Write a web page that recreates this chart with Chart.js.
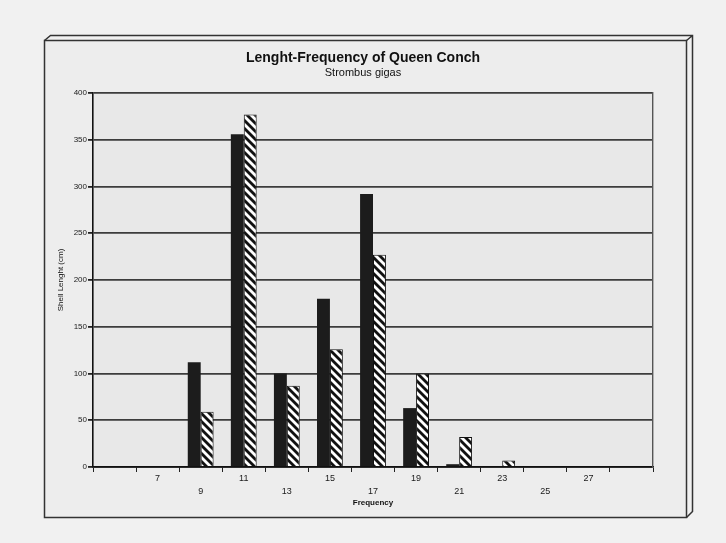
<!DOCTYPE html>
<html>
<head>
<meta charset="utf-8">
<script src="https://cdn.jsdelivr.net/npm/chart.js@4"></script>
<style>
    html, body { margin: 0; padding: 0; background: #f1f1f1; }
    #wrap { position: relative; width: 726px; height: 543px; }
</style>
</head>
<body>
<div id="wrap"><canvas id="chart-1" width="726" height="543"></canvas></div>
<script>
// shell length classes (first and last slots are empty in the original)
var size_labels = ["", "7", "9", "11", "13", "15", "17", "19", "21", "23", "25", "27", ""];
var solid_values = [0, 0, 112, 356, 100, 180, 292, 63, 3, 0, 0, 0, 0];
var hatched_values = [0, 1, 59, 377, 87, 126, 227, 100, 32, 7, 0, 1, 0];
var y_ticks = [0, 50, 100, 150, 200, 250, 300, 350, 400];

// diagonal stripe pattern for the second series
function makeStripes() {
    var c = document.createElement("canvas");
    c.width = 8;
    c.height = 8;
    var p = c.getContext("2d");
    p.fillStyle = "#111";
    p.fillRect(0, 0, 8, 8);
    p.strokeStyle = "#fff";
    p.lineWidth = 2.8;
    for (let k = -8; k <= 8; k += 8) {
        p.beginPath();
        p.moveTo(-1, k - 1);
        p.lineTo(9, k + 9);
        p.stroke();
    }
    return p.createPattern(c, "repeat");
}

// outer 3d frame and grey plot area
var framePlugin = {
    id: "frame",
    beforeDraw: function(chart) {
        var ctx = chart.ctx;
        var a = chart.chartArea;
        ctx.save();
        ctx.fillStyle = "#ededed";
        ctx.fillRect(44, 40, 642, 477);
        ctx.strokeStyle = "#333";
        ctx.lineWidth = 1.5;
        ctx.strokeRect(44.5, 40.5, 642, 477);
        ctx.beginPath();
        ctx.moveTo(44.5, 40.5);
        ctx.lineTo(50.5, 35.5);
        ctx.lineTo(692.5, 35.5);
        ctx.lineTo(692.5, 511.5);
        ctx.lineTo(686.5, 517.5);
        ctx.moveTo(686.5, 40.5);
        ctx.lineTo(692.5, 35.5);
        ctx.stroke();
        ctx.fillStyle = "#e8e8e8";
        ctx.fillRect(a.left, a.top, a.right - a.left, a.bottom - a.top);
        ctx.restore();
    }
};

var ctx = document.getElementById("chart-1").getContext("2d");
var myChart = new Chart(ctx, {
    type: "bar",
    data: {
        labels: size_labels,
        datasets: [{
            label: "solid",
            data: solid_values,
            backgroundColor: "#1c1c1c",
            borderColor: "#111",
            borderWidth: 0,
        }, {
            label: "hatched",
            data: hatched_values,
            backgroundColor: makeStripes(),
            borderColor: "#111",
            borderWidth: 1,
        }, ],
    },
    plugins: [framePlugin],
    options: {
        responsive: false,
        animation: false,
        layout: {
            padding: { top: 35, left: 45, right: 45, bottom: 0 },
        },
        datasets: {
            bar: { categoryPercentage: 0.6, barPercentage: 1.0 },
        },
        plugins: {
            legend: { display: false },
            tooltip: { enabled: false },
            title: {
                display: true,
                text: "Lenght-Frequency of Queen Conch",
                color: "#111",
                font: { family: "Liberation Sans", size: 14, weight: "bold", lineHeight: 1.2 },
                padding: { top: 14.6, bottom: 0 },
            },
            subtitle: {
                display: true,
                text: "Strombus gigas",
                color: "#111",
                font: { family: "Liberation Sans", size: 11, lineHeight: 1.2 },
                padding: { top: 0, bottom: 13.4 },
            },
        },
        scales: {
            x: {
                afterFit: function(s) { s.height = 76; },
                grid: {
                    offset: true,
                    drawOnChartArea: false,
                    drawTicks: true,
                    tickLength: 5,
                    tickColor: "#222",
                },
                border: { display: true, color: "#111", width: 1.6 },
                ticks: {
                    padding: 0,
                    maxRotation: 0,
                    autoSkip: false,
                    color: "#1a1a1a",
                    font: { family: "Liberation Sans", size: 9, lineHeight: "13px" },
                    callback: function(v, i) {
                        var t = size_labels[i];
                        return i % 2 === 0 ? ["", t] : t;
                    },
                },
                title: {
                    display: true,
                    text: "Frequency",
                    color: "#111",
                    font: { family: "Liberation Sans", size: 8, weight: "bold", lineHeight: 1.2 },
                    padding: { top: 0, bottom: 35.7 },
                },
            },
            y: {
                min: 0,
                max: 400,
                afterFit: function(s) { s.width = 48; },
                afterBuildTicks: function(s) {
                    s.ticks = y_ticks.map(function(v) { return { value: v }; });
                },
                grid: {
                    color: function(c) { return c.tick && c.tick.value === 0 ? "#111" : "#3c3c3c"; },
                    lineWidth: 1.8,
                    tickLength: 5,
                    tickColor: "#222",
                },
                border: { display: true, color: "#111", width: 1.6 },
                ticks: {
                    padding: 1,
                    color: "#1a1a1a",
                    font: { family: "Liberation Sans", size: 8 },
                },
                title: {
                    display: true,
                    text: "Shell Lenght (cm)",
                    color: "#111",
                    font: { family: "Liberation Sans", size: 8, lineHeight: 1.2 },
                    padding: { top: 11.2, bottom: 0 },
                },
            },
            yR: {
                position: "right",
                display: true,
                afterFit: function(s) { s.width = 28; },
                grid: { display: false },
                ticks: { display: false },
                border: { display: true, color: "#555", width: 1.4 },
            },
        },
    },
});
</script>
</body>
</html>
